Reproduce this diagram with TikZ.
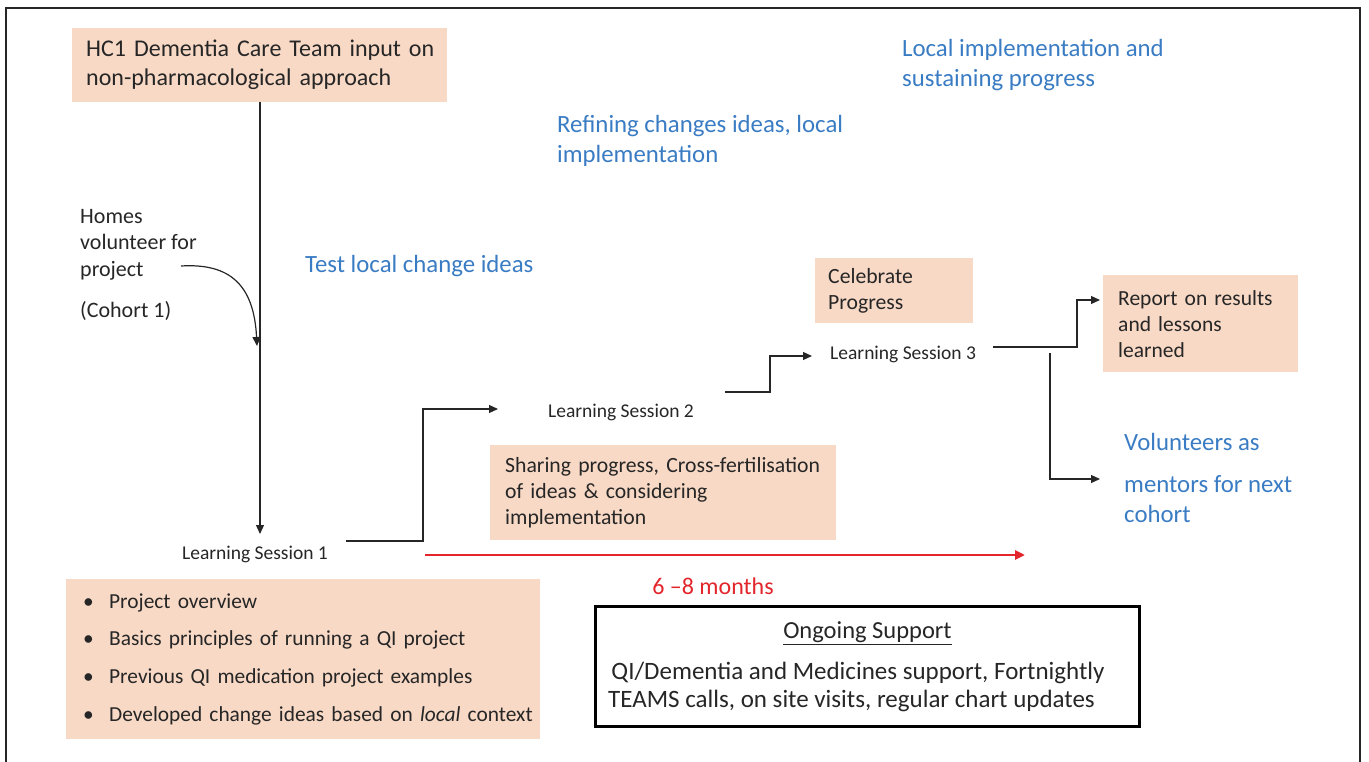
\documentclass[tikz,border=0pt]{standalone}
\usepackage{fontspec}
\setmainfont{Carlito}
\usetikzlibrary{arrows.meta}
\definecolor{peach}{RGB}{248,217,198}
\definecolor{tblue}{RGB}{58,124,195}
\definecolor{tdark}{RGB}{38,38,38}
\definecolor{tred}{RGB}{226,38,44}
\newcommand{\fsz}[2]{\fontsize{#1pt}{#2pt}\selectfont}
\newcommand{\bul}{\makebox[26pt][l]{•}}
\begin{document}
\begin{tikzpicture}[x=1pt,y=-1pt,
  every node/.style={text=tdark, inner sep=0pt},
  peachbox/.style={fill=peach, anchor=north west, align=left},
  bluetxt/.style={text=tblue, align=left, anchor=west, font=\fsz{24.8}{30}},
  session/.style={font=\fsz{19.5}{22}},
  conn/.style={draw=tdark, line width=1.2pt, -{Triangle[length=9pt,width=8pt]}},
  redarrow/.style={draw=tred, line width=2.6pt, -{Triangle[length=10pt,width=9pt]}}]
\useasboundingbox (0,0) rectangle (1369,762);
% frame
\draw[tdark, line width=1.3pt] (6,762) -- (6,8) -- (1360,8) -- (1360,762);

% boxes
\node[peachbox, minimum width=375pt, minimum height=74pt, text width=347pt, inner xsep=14pt, font=\fsz{24}{29}] (hc1) at (72,28)
  {\mbox{HC1 Dementia Care Team input on}\\non-pharmacological approach};
\node[peachbox, minimum width=346pt, minimum height=95pt, text width=316pt, inner xsep=15pt, font=\fsz{21.7}{26}] (share) at (490,445)
  {\mbox{Sharing progress, Cross-fertilisation}\\of ideas \& considering\\implementation};
\node[peachbox, minimum width=158pt, minimum height=65pt, text width=132pt, inner xsep=13pt, font=\fsz{21.7}{26}] (celeb) at (815,258)
  {Celebrate\\Progress};
\node[peachbox, minimum width=195pt, minimum height=97pt, text width=165pt, inner xsep=15pt, font=\fsz{21.5}{26}] (report) at (1103,275)
  {\mbox{Report on results}\\and lessons\\learned};
\node[peachbox, minimum width=474pt, minimum height=160pt, text width=440pt, inner xsep=17pt, font=\fsz{21.4}{37.7}] (bullets) at (66,579)
  {\bul Project overview\\
   \bul\mbox{Basics principles of running a QI project}\\
   \bul\mbox{Previous QI medication project examples}\\
   \bul\mbox{Developed change ideas based on \textit{local} context}};
\node[draw=black, line width=3pt, anchor=north west, minimum width=544pt, minimum height=120pt, align=center, font=\fsz{25}{28}] (support) at (594,605)
  {{\fsz{24.5}{28}\underline{Ongoing Support}}\\[13pt]
   \hspace*{5pt}QI/Dementia and Medicines support, Fortnightly\hspace*{24pt}\mbox{}\\
   TEAMS calls, on site visits, regular chart updates\hspace*{32pt}};

% plain texts
\node[anchor=west, align=left, font=\fsz{22}{26.5}] (homes) at (80,244.5) {Homes\\volunteer for\\project};
\node[anchor=west, font=\fsz{22}{26}] (cohort) at (80,311) {(Cohort 1)};
\node[bluetxt] (test) at (305,266) {Test local change ideas};
\node[bluetxt] (refine) at (557,141) {Refining changes ideas, local\\implementation};
\node[bluetxt] (localimp) at (902,65) {Local implementation and\\sustaining progress};
\node[bluetxt] (vol1) at (1124,442) {Volunteers as};
\node[bluetxt] (vol2) at (1124,499) {mentors for next\\cohort};
\node[session] (ls1) at (255,554) {Learning Session 1};
\node[session] (ls2) at (621,412) {Learning Session 2};
\node[session, anchor=west] (ls3) at (830,354) {Learning Session 3};
\node[text=tred, font=\fsz{24}{26}] (months) at (713,586) {6 –8 months};

% connectors
\draw[conn] (hc1.south -| 260,0) -- (260,534) coordinate (ls1in);
\coordinate (hvs) at (181,266);
\coordinate (hve) at (257,346);
\draw[conn] (hvs) .. controls (230,263) and (254,285) .. (hve);

\coordinate (e1s) at (346,541);
\coordinate (e1t) at (498,409);
\draw[conn] (e1s) -- (423,541) |- (e1t);

\coordinate (e2s) at (725,392);
\coordinate (e2t) at (812,356);
\draw[conn] (e2s) -- (770,392) |- (e2t);

\coordinate (e3s) at (993,347);
\coordinate (e3t) at (1100,300);
\draw[conn] (e3s) -- (1077,347) |- (e3t);

\coordinate (e4s) at (1050,353);
\coordinate (e4t) at (1100,479);
\draw[conn] (e4s) |- (e4t);

\coordinate (rs) at (425,555);
\coordinate (re) at (1025,555);
\draw[redarrow] (rs) -- (re);
\end{tikzpicture}
\end{document}
